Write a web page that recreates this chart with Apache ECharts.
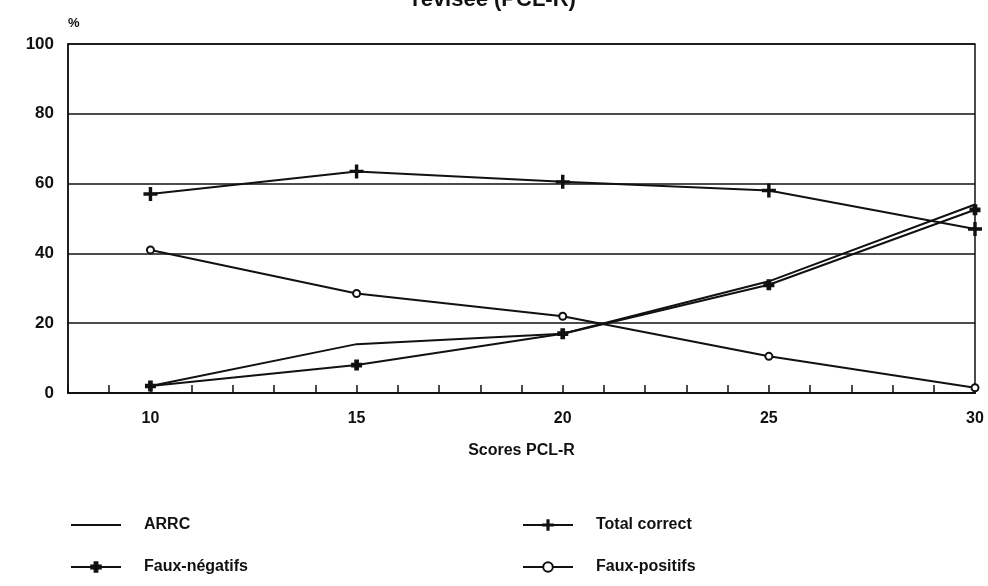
<!DOCTYPE html>
<html>
<head>
<meta charset="utf-8">
<script src="https://cdn.jsdelivr.net/npm/echarts@6/dist/echarts.min.js"></script>
<style>
  html, body { margin: 0; padding: 0; background: #fff; }
  #chart { width: 988px; height: 586px; }
</style>
</head>
<body>
<div id="chart"></div>
<script>
// scores PCL-R (seuils)
var scores = [10, 15, 20, 25, 30]
var arrc = [2, 14, 17, 32, 54]
var totalCorrect = [57, 63.5, 60.5, 58, 47]
var fauxNegatifs = [2, 8, 17, 31, 52.5]
var fauxPositifs = [41, 28.5, 22, 10.5, 1.5]
var xTickLabels = [10, 15, 20, 25, 30]

var font = 'Liberation Sans'
var ink = '#111'

function pairs(vals) {
  return scores.map(function (s, i) { return [s, vals[i]] })
}

var plusThin = 'path://M4.4,0h1.2v4.4h4.4v1.2h-4.4v4.4h-1.2v-4.4h-4.4v-1.2h4.4z'
var plusBold = 'path://M3.5,0h3v3.5h3.5v3h-3.5v3.5h-3v-3.5h-3.5v-3h3.5z'

function lineSerie(name, vals, symbol, size) {
  return {
    name: name,
    type: 'line',
    data: pairs(vals),
    symbol: symbol,
    symbolSize: size,
    lineStyle: { color: ink, width: 2 },
    itemStyle: { color: ink, borderColor: ink, borderWidth: 2 },
    animation: false
  }
}

var legendText = { fontFamily: font, fontSize: 16, fontWeight: 'bold', color: ink, padding: [0, 0, 0, 18] }

var chart = echarts.init(document.getElementById('chart'))
chart.setOption({
  backgroundColor: '#fff',
  title: {
    text: 'révisée (PCL-R)',
    left: 'center',
    top: -16,
    textStyle: { fontFamily: font, fontSize: 22, fontWeight: 'bold', color: ink }
  },
  grid: {
    left: 68,
    right: 13,
    top: 44,
    bottom: 193,
    show: true,
    borderColor: ink,
    borderWidth: 1.5
  },
  xAxis: {
    type: 'value',
    min: 8,
    max: 30,
    interval: 1,
    name: 'Scores PCL-R',
    nameLocation: 'middle',
    nameGap: 50,
    nameTextStyle: { fontFamily: font, fontSize: 16, fontWeight: 'bold', color: ink },
    axisLine: { lineStyle: { color: ink, width: 2 } },
    axisTick: { inside: true, length: 8, lineStyle: { color: ink, width: 1.5 } },
    splitLine: { show: false },
    axisLabel: {
      margin: 18,
      fontFamily: font,
      fontSize: 16,
      fontWeight: 'bold',
      color: ink,
      formatter: function (v) { return xTickLabels.indexOf(v) >= 0 ? String(v) : '' }
    }
  },
  yAxis: {
    type: 'value',
    min: 0,
    max: 100,
    interval: 20,
    name: '%',
    nameGap: 14,
    nameTextStyle: { fontFamily: font, fontSize: 13, fontWeight: 'bold', color: ink, align: 'left' },
    axisLine: { show: true, lineStyle: { color: ink, width: 1.5 } },
    axisTick: { show: false },
    splitLine: { lineStyle: { color: ink, width: 1.5 } },
    axisLabel: { margin: 14, fontFamily: font, fontSize: 17, fontWeight: 'bold', color: ink }
  },
  legend: [{
    left: 65,
    top: 512,
    orient: 'vertical',
    itemWidth: 50,
    itemHeight: 12,
    itemGap: 26,
    data: [{ name: 'ARRC', itemStyle: { opacity: 0 } }, 'Faux-négatifs'],
    textStyle: legendText
  }, {
    left: 517,
    top: 512,
    orient: 'vertical',
    itemWidth: 50,
    itemHeight: 12,
    itemGap: 26,
    data: ['Total correct', 'Faux-positifs'],
    textStyle: legendText
  }],
  series: [
    lineSerie('ARRC', arrc, 'none', 0),
    lineSerie('Total correct', totalCorrect, plusThin, 12),
    lineSerie('Faux-négatifs', fauxNegatifs, plusBold, 9),
    lineSerie('Faux-positifs', fauxPositifs, 'emptyCircle', 7)
  ]
})
</script>
</body>
</html>
